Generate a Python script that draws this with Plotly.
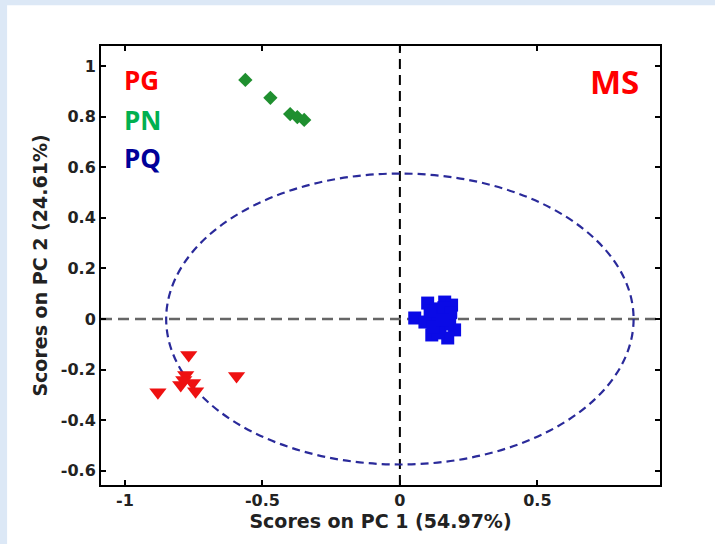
import plotly.graph_objects as go

# ---- data ----
pg_x = [-0.768, -0.779, -0.797, -0.754, -0.743, -0.880, -0.594, -0.786]
pg_y = [-0.142, -0.221, -0.261, -0.253, -0.285, -0.289, -0.225, -0.241]

pn_x = [-0.562, -0.471, -0.399, -0.373, -0.348]
pn_y = [0.945, 0.874, 0.810, 0.798, 0.787]

pq_x = [0.054, 0.101, 0.163, 0.188, 0.127, 0.181, 0.145, 0.199, 0.116, 0.174, 0.091,
        0.150, 0.130, 0.170, 0.140, 0.120, 0.160, 0.185, 0.110, 0.155]
pq_y = [0.004, 0.063, 0.067, 0.055, 0.016, 0.004, -0.036, -0.043, -0.063, -0.075, -0.012,
        0.030, 0.040, -0.020, -0.055, -0.030, 0.045, 0.025, 0.030, -0.005]

ellipse_rx = 0.85
ellipse_ry = 0.575

x_ticks = [-1, -0.5, 0, 0.5]
x_tick_labels = ["-1", "-0.5", "0", "0.5"]
y_ticks = [-0.6, -0.4, -0.2, 0, 0.2, 0.4, 0.6, 0.8, 1]
y_tick_labels = ["-0.6", "-0.4", "-0.2", "0", "0.2", "0.4", "0.6", "0.8", "1"]

x_range = [-1.087, 0.946]
y_range = [-0.656, 1.079]

fig = go.Figure()

fig.add_trace(go.Scatter(x=pq_x, y=pq_y, mode="markers",
                         marker=dict(symbol="square", size=13, color="#0a0ae6",
                                     line=dict(width=0)), showlegend=False))
fig.add_trace(go.Scatter(x=pg_x, y=pg_y, mode="markers",
                         marker=dict(symbol="triangle-down", size=15, color="#ee1111",
                                     line=dict(width=0)), showlegend=False))
fig.add_trace(go.Scatter(x=pn_x, y=pn_y, mode="markers",
                         marker=dict(symbol="diamond", size=11, color="#1f8f2f",
                                     line=dict(width=0)), showlegend=False))

shapes = [
    # page background (white card on light blue)
    dict(type="rect", xref="paper", yref="paper", x0=-0.168, x1=1.2, y0=-0.2, y1=1.093,
         fillcolor="white", line=dict(width=0), layer="below"),
    # dashed axes through origin
    dict(type="line", xref="x", yref="paper", x0=0, x1=0, y0=0, y1=1,
         line=dict(color="black", width=2, dash="10px,6px"), layer="below"),
    dict(type="line", xref="paper", yref="y", x0=0, x1=1, y0=0, y1=0,
         line=dict(color="#666666", width=2.5, dash="11px,6px"), layer="below"),
    # confidence ellipse
    dict(type="circle", xref="x", yref="y", x0=-ellipse_rx, x1=ellipse_rx,
         y0=-ellipse_ry, y1=ellipse_ry,
         line=dict(color="#2a2a9a", width=2.2, dash="8px,5px"), layer="below"),
]

lab_font = "Open Sans, Arial"
annotations = [
    dict(text="<b>PG</b>", x=0.037, y=0.922, xref="paper", yref="paper", showarrow=False,
         xanchor="left", yanchor="middle", font=dict(family=lab_font, size=26, color="#ff0000")),
    dict(text="<b>PN</b>", x=0.037, y=0.831, xref="paper", yref="paper", showarrow=False,
         xanchor="left", yanchor="middle", font=dict(family=lab_font, size=26, color="#00b050")),
    dict(text="<b>PQ</b>", x=0.037, y=0.745, xref="paper", yref="paper", showarrow=False,
         xanchor="left", yanchor="middle", font=dict(family=lab_font, size=26, color="#000099")),
    dict(text="<b>MS</b>", x=0.918, y=0.918, xref="paper", yref="paper", showarrow=False,
         xanchor="center", yanchor="middle", font=dict(family=lab_font, size=33, color="#ff0000")),
]

tick_font = dict(family="DejaVu Sans", size=16, color="#222222")
title_font = dict(family="DejaVu Sans", size=19, color="#222222")

axis_common = dict(showline=True, linecolor="black", linewidth=2, mirror="allticks",
                   ticks="inside", ticklen=5, tickwidth=1.5, tickcolor="black",
                   showgrid=False, zeroline=False, tickfont=tick_font)

fig.update_layout(
    width=715, height=544,
    margin=dict(l=101, r=55, t=46, b=59),
    paper_bgcolor="#dce8f6",
    plot_bgcolor="white",
    shapes=shapes,
    annotations=annotations,
    xaxis=dict(range=x_range, tickvals=x_ticks, ticktext=["<b>%s</b>" % t for t in x_tick_labels],
               title=dict(text="<b>Scores on PC 1 (54.97%)</b>", standoff=4, font=title_font),
               **axis_common),
    yaxis=dict(range=y_range, tickvals=y_ticks, ticktext=["<b>%s</b>" % t for t in y_tick_labels],
               title=dict(text="<b>Scores on PC 2 (24.61%)</b>", standoff=8, font=title_font),
               **axis_common),
)

fig.write_html("out.html")
